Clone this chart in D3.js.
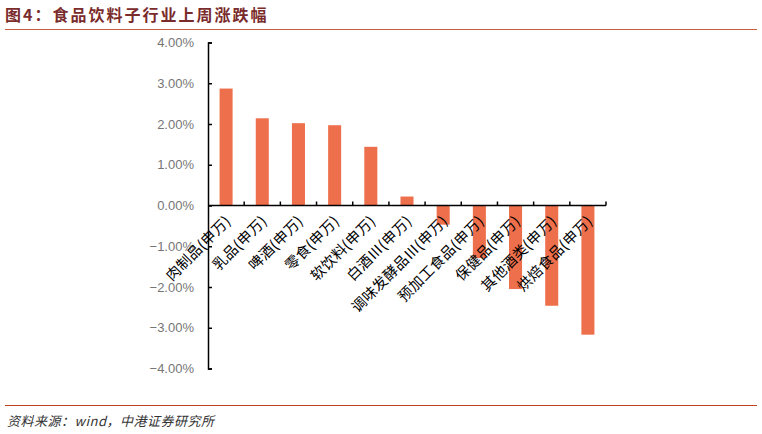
<!DOCTYPE html>
<html><head><meta charset="utf-8">
<script src="https://cdn.jsdelivr.net/npm/d3@7"></script>
<style>body{margin:0;background:#fff}svg{display:block}</style>
</head><body>
<script>
const categories = ["肉制品(申万)","乳品(申万)","啤酒(申万)","零食(申万)","软饮料(申万)","白酒Ⅲ(申万)","调味发酵品Ⅲ(申万)","预加工食品(申万)","保健品(申万)","其他酒类(申万)","烘焙食品(申万)"];
const values = [2.87, 2.14, 2.02, 1.97, 1.44, 0.22, -0.47, -1.29, -2.05, -2.46, -3.17];
const yTicks = [4, 3, 2, 1, 0, -1, -2, -3, -4];
const title = "图4：食品饮料子行业上周涨跌幅";
const source = "资料来源：wind，中港证券研究所";

const W = 762, H = 434;
const svg = d3.select("body").append("svg").attr("width", W).attr("height", H);

const x = d3.scaleBand().domain(categories).range([208, 606]).paddingInner(0.64).paddingOuter(0.32);
const y = d3.scaleLinear().domain([-4, 4]).range([368.5, 42.5]);

// title & lines
svg.append("text").attr("x", 5).attr("y", 21).text(title)
  .attr("font-family", "'Noto Sans CJK SC', sans-serif").attr("font-weight", "bold")
  .attr("font-size", 16).attr("letter-spacing", 2).attr("fill", "#7a2b2b");
svg.append("line").attr("x1", 5).attr("x2", 757).attr("y1", 29.5).attr("y2", 29.5)
  .attr("stroke", "#c8603f").attr("stroke-width", 1.2);
svg.append("line").attr("x1", 5).attr("x2", 757).attr("y1", 405.5).attr("y2", 405.5)
  .attr("stroke", "#c0401f").attr("stroke-width", 1.2);
svg.append("text").attr("x", 7).attr("y", 426).text(source)
  .attr("font-family", "'Noto Sans CJK SC', sans-serif").attr("font-style", "italic")
  .attr("font-size", 13).attr("letter-spacing", 0.5).attr("fill", "#333");

// bars
svg.append("g").selectAll("rect").data(values).join("rect")
  .attr("x", (d, i) => x(categories[i]))
  .attr("width", x.bandwidth())
  .attr("y", d => y(Math.max(0, d)))
  .attr("height", d => Math.abs(y(d) - y(0)))
  .attr("fill", "#ee6f4b");

// y axis
const yAxis = d3.axisLeft(y).tickValues(yTicks).tickSize(-4).tickPadding(14)
  .tickFormat(d => d3.format(".2f")(d) + "%");
const gy = svg.append("g").attr("transform", "translate(208,0)").call(yAxis);
gy.select(".domain").attr("stroke", "#000").attr("stroke-width", 1.5);
gy.selectAll(".tick line").attr("stroke", "#000").attr("stroke-width", 1.5);
gy.selectAll(".tick text").attr("font-family", "'Liberation Sans', Arial, sans-serif")
  .attr("font-size", 13).attr("fill", "#767676");

// x axis at zero
const bounds = d3.range(categories.length + 1).map(i => 208 + i * (398 / categories.length));
const gx = svg.append("g");
gx.append("line").attr("x1", 208).attr("x2", 606).attr("y1", y(0)).attr("y2", y(0))
  .attr("stroke", "#000").attr("stroke-width", 1.5);
gx.selectAll("line.t").data(bounds.slice(1)).join("line").attr("class", "t")
  .attr("x1", d => d).attr("x2", d => d).attr("y1", y(0)).attr("y2", y(0) - 4)
  .attr("stroke", "#000").attr("stroke-width", 1.5);

// category labels
svg.append("g").selectAll("text").data(categories).join("text")
  .attr("transform", d => `translate(${x(d) + x.bandwidth() / 2 + 2},${y(0) + 13}) rotate(-45)`)
  .attr("text-anchor", "end").attr("dy", "0.35em")
  .attr("font-family", "'Noto Sans CJK SC', sans-serif").attr("font-size", 14.5)
  .attr("letter-spacing", 0.3)
  .attr("fill", "#000").text(d => d);
</script>
</body></html>
